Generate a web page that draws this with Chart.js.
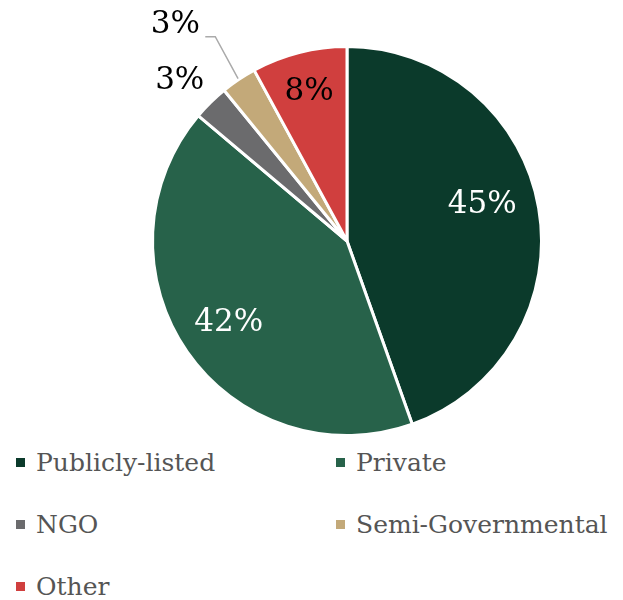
<!DOCTYPE html>
<html>
<head>
<meta charset="utf-8">
<script src="https://cdn.jsdelivr.net/npm/chart.js@4.4.1/dist/chart.umd.min.js"></script>
<style>
  html, body { margin: 0; padding: 0; background: #fff; }
  #wrap { position: relative; width: 623px; height: 600px; }
  #chart-box { position: absolute; left: 0; top: 0; width: 623px; height: 440px; }
  #legend { position: absolute; left: 16px; top: 440px; width: 607px;
    display: grid; grid-template-columns: 320px 287px; grid-auto-rows: 62px;
    font-family: "DejaVu Serif", serif; font-size: 25px; color: #555; }
  .item { display: flex; align-items: center; height: 44px; }
  .swatch { width: 9px; height: 9px; margin-right: 11px; flex: none; }
</style>
</head>
<body>
<div id="wrap">
  <div id="chart-box"><canvas id="pie"></canvas></div>
  <div id="legend"></div>
</div>
<script>
// ====== DATA ======
const categories = ['Publicly-listed', 'Private', 'NGO', 'Semi-Governmental', 'Other'];
const shares = [45, 42, 3, 3, 8];
const sliceColors = ['#0b3a2b', '#27624a', '#6b6b6d', '#c3a979', '#d03f3e'];

// label placement per slice: inside at a fraction of the radius, or outside
const labelStyle = [
  { r: 0.72, color: '#fff', angle: -0.09 },
  { r: 0.74, color: '#fff' },
  { r: 1.19, color: '#000', angle: -0.03 },
  { r: 1.42, color: '#000', angle: -0.08, leader: true },
  { r: 0.79, color: '#000' }
];

// ====== LABEL PLUGIN ======
const sliceLabels = {
  id: 'sliceLabels',
  afterDatasetsDraw(chart) {
    const ctx = chart.ctx;
    const arcs = chart.getDatasetMeta(0).data;
    ctx.save();
    ctx.font = '31px "DejaVu Serif", serif';
    ctx.textAlign = 'center';
    ctx.textBaseline = 'middle';
    arcs.forEach((arc, i) => {
      const st = labelStyle[i];
      const mid = (arc.startAngle + arc.endAngle) / 2 + (st.angle || 0);
      const x = arc.x + Math.cos(mid) * arc.outerRadius * st.r;
      const y = arc.y + Math.sin(mid) * arc.outerRadius * st.r;
      if (st.leader) {
        const a = (arc.startAngle + arc.endAngle) / 2;
        const ex = arc.x + Math.cos(a) * (arc.outerRadius + 1);
        const ey = arc.y + Math.sin(a) * (arc.outerRadius + 1);
        ctx.strokeStyle = '#aaa';
        ctx.lineWidth = 1.5;
        ctx.beginPath();
        ctx.moveTo(ex, ey);
        ctx.lineTo(x + 40, y + 12);
        ctx.lineTo(x + 30, y + 12);
        ctx.stroke();
      }
      ctx.fillStyle = st.color;
      ctx.fillText(shares[i] + '%', x, y);
    });
    ctx.restore();
  }
};

// ====== CHART ======
const myChart = new Chart(document.getElementById('pie'), {
  type: 'pie',
  data: {
    labels: categories,
    datasets: [{
      data: shares,
      backgroundColor: sliceColors,
      borderColor: '#fff',
      borderWidth: 3
    }]
  },
  options: {
    responsive: true,
    maintainAspectRatio: false,
    animation: false,
    layout: { padding: { top: 45, bottom: 3, left: 71, right: 0 } },
    plugins: {
      legend: { display: false },
      tooltip: { enabled: false }
    }
  },
  plugins: [sliceLabels]
});

// ====== LEGEND ======
const legendBox = document.getElementById('legend');
categories.forEach((name, i) => {
  const item = document.createElement('div');
  item.className = 'item';
  item.innerHTML = `<span class="swatch" style="background:${sliceColors[i]}"></span><span>${name}</span>`;
  legendBox.appendChild(item);
});
</script>
</body>
</html>
